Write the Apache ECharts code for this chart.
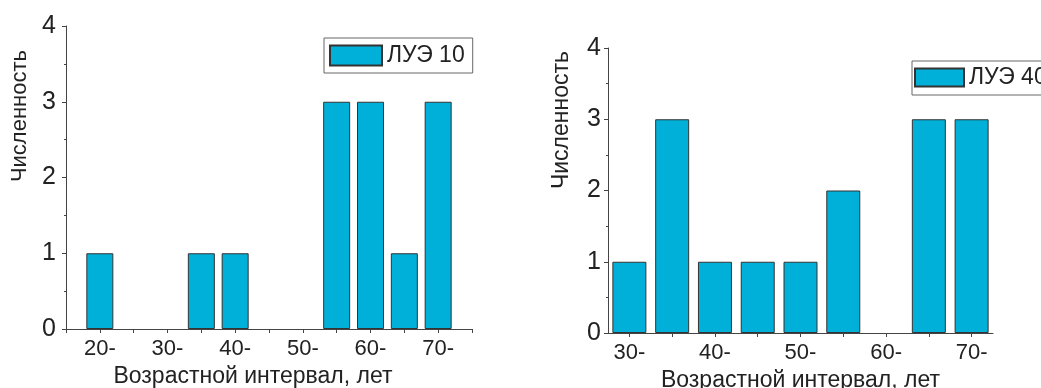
<!DOCTYPE html>
<html>
<head>
<meta charset="utf-8">
<script src="https://cdn.jsdelivr.net/npm/echarts@6/dist/echarts.min.js"></script>
<style>
html,body{margin:0;padding:0;background:#fff;}
#c{width:1041px;height:388px;}
</style>
</head>
<body>
<div id="c"></div>
<script>
// Data
const agesA = [20, 25, 30, 35, 40, 45, 50, 55, 60, 65, 70];
const countsA = [1, 0, 0, 1, 1, 0, 0, 3, 3, 1, 3];
const agesB = [30, 35, 40, 45, 50, 55, 60, 65, 70];
const countsB = [1, 3, 1, 1, 1, 2, 0, 3, 3];
const labelAgesA = [20, 30, 40, 50, 60, 70];
const labelAgesB = [30, 40, 50, 60, 70];
const yTicks = [0, 1, 2, 3, 4];
const nameA = 'ЛУЭ 10';
const nameB = 'ЛУЭ 40';
const xTitle = 'Возрастной интервал, лет';
const yTitle = 'Численность';

const FONT = "'Liberation Sans Narrow', 'Liberation Sans', Arial, sans-serif";
const AX = '#444';
const BAR = '#00B0D8';

function xAxis(gi, min, max, ticks, labels, extra) {
  return Object.assign({
    type: 'value', gridIndex: gi, min: min, max: max,
    axisLine: {show: true, onZero: false, lineStyle: {color: AX, width: 1}},
    axisTick: {show: true, length: 4, lineStyle: {color: AX}, customValues: ticks},
    splitLine: {show: false},
    axisLabel: {
      color: '#222', fontFamily: FONT, fontSize: 22, margin: 9,
      customValues: labels,
      formatter: v => v + '-'
    },
    name: xTitle, nameLocation: 'middle', nameGap: 35,
    nameTextStyle: {color: '#222', fontFamily: FONT, fontSize: 23}
  }, extra || {});
}
function yAxis(gi, margin) {
  return {
    type: 'value', gridIndex: gi, min: yTicks[0], max: yTicks[yTicks.length - 1], interval: 1,
    axisLine: {show: true, lineStyle: {color: AX, width: 1}},
    axisTick: {show: true, length: 4, lineStyle: {color: AX}},
    minorTick: {show: true, splitNumber: 2, length: 2, lineStyle: {color: AX}},
    splitLine: {show: false},
    axisLabel: {color: '#222', fontFamily: FONT, fontSize: 25, margin: margin}
  };
}
function barData(ages, counts) {
  return ages.map((a, i) => ({
    value: [a, counts[i]],
    itemStyle: counts[i] === 0 ? {borderWidth: 0} : undefined
  }));
}

const chart = echarts.init(document.getElementById('c'), null, {renderer: 'canvas'});
chart.setOption({
  animation: false,
  backgroundColor: '#fff',
  grid: [
    {left: 66, top: 26, width: 406, height: 303, containLabel: false, outerBoundsMode: 'none'},
    {left: 608, top: 48, width: 385, height: 285, containLabel: false, outerBoundsMode: 'none'}
  ],
  xAxis: [
    xAxis(0, 15, 75, [15].concat(agesA, [75]), labelAgesA,
      {nameTextStyle: {color: '#222', fontFamily: FONT, fontSize: 23, padding: [0, 32, 0, 0]}}),
    xAxis(1, 27.5, 72.5, agesB, labelAgesB, {nameGap: 33})
  ],
  yAxis: [yAxis(0, 10), yAxis(1, 7)],
  legend: [
    {
      data: [nameA], left: 324, top: 38, orient: 'horizontal', icon: 'rect',
      itemWidth: 52, itemHeight: 20, padding: [6, 8, 6, 5],
      borderColor: '#666', borderWidth: 1, borderRadius: 0,
      textStyle: {fontFamily: FONT, fontSize: 23, color: '#222'}
    },
    {
      data: [nameB], left: 912, top: 61, orient: 'horizontal', icon: 'rect',
      itemWidth: 49, itemHeight: 18, padding: [5, 8, 6, 2],
      borderColor: '#666', borderWidth: 1, borderRadius: 0,
      textStyle: {fontFamily: FONT, fontSize: 23, color: '#222'}
    }
  ],
  graphic: [
    {type: 'text', left: 9, top: 50, rotation: Math.PI / 2,
     style: {text: yTitle, font: "22px " + FONT, fill: '#222'}},
    {type: 'text', left: 550, top: 51, rotation: Math.PI / 2,
     style: {text: yTitle, font: "23px " + FONT, fill: '#222'}}
  ],
  series: [
    {
      name: nameA, type: 'bar', xAxisIndex: 0, yAxisIndex: 0, barWidth: 27,
      itemStyle: {color: BAR, borderColor: '#333', borderWidth: 1},
      data: barData(agesA, countsA)
    },
    {
      name: nameB, type: 'bar', xAxisIndex: 1, yAxisIndex: 1, barWidth: 34,
      itemStyle: {color: BAR, borderColor: '#333', borderWidth: 1},
      data: barData(agesB, countsB)
    }
  ]
});
</script>
</body>
</html>
